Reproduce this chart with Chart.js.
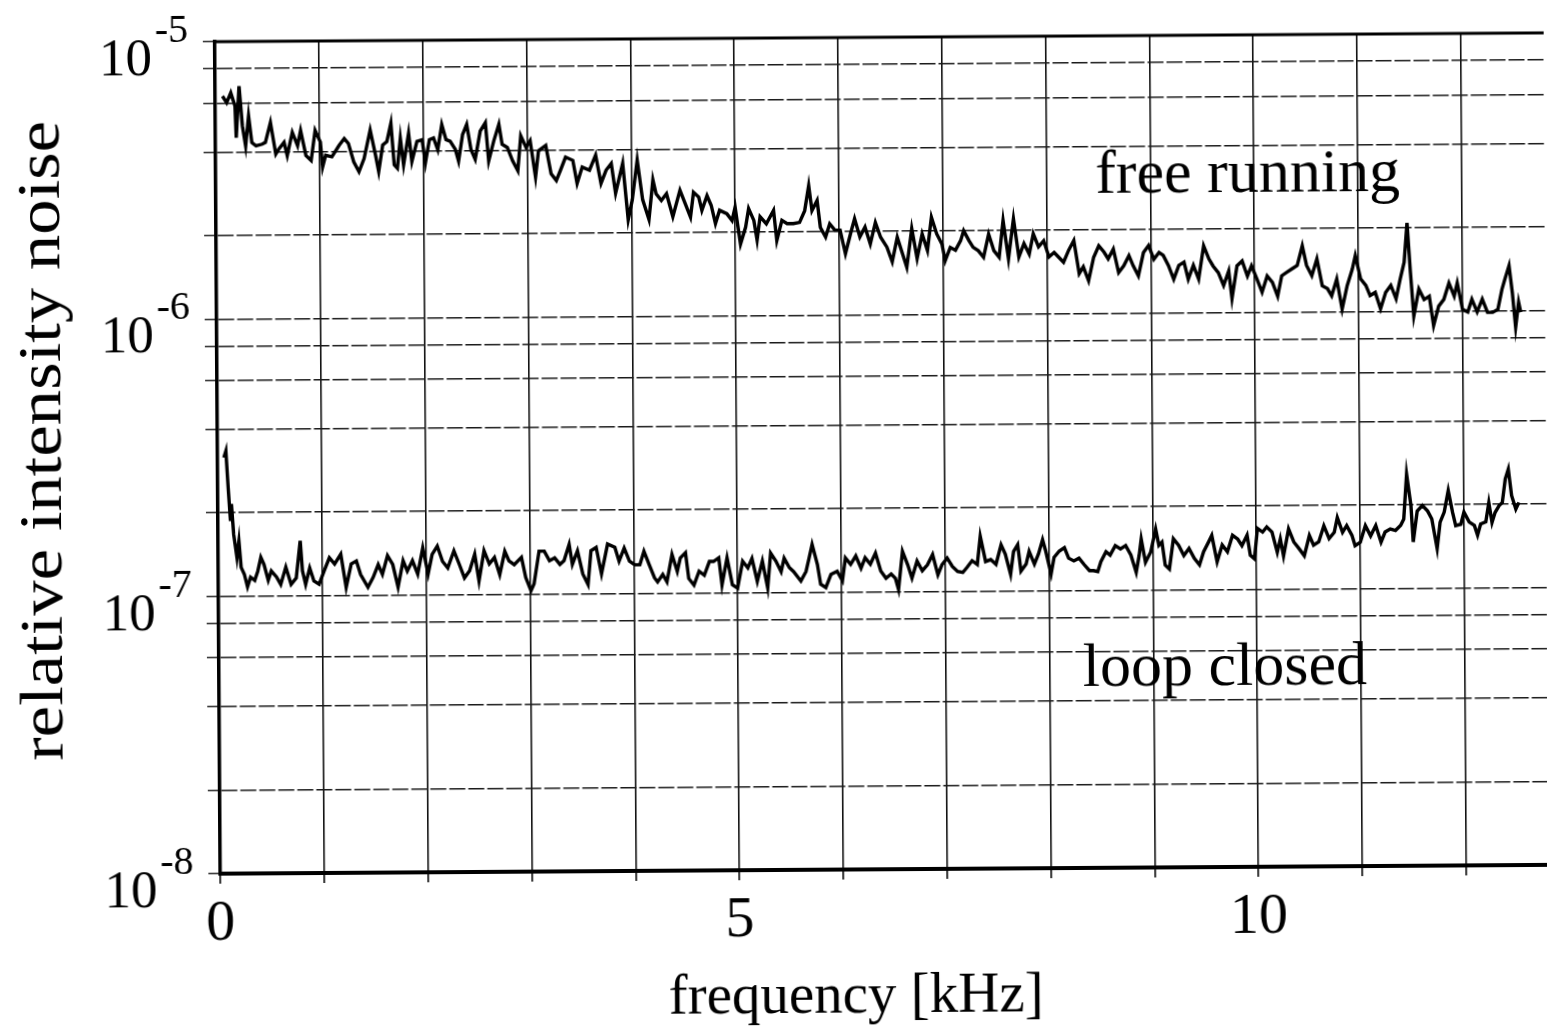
<!DOCTYPE html>
<html>
<head>
<meta charset="utf-8">
<title>relative intensity noise</title>
<script src="https://cdn.jsdelivr.net/npm/chart.js@4.4.1/dist/chart.umd.min.js"></script>
<style>
  html, body { margin: 0; padding: 0; background: #fff; overflow: hidden; }
  #rin { display: block; background: #fff; transform: rotate(-0.38deg); }
</style>
</head>
<body>
<canvas id="rin" width="1547" height="1030"></canvas>
<script>
// frequency axis [kHz]
const xTicks = [0, 1, 2, 3, 4, 5, 6, 7, 8, 9, 10, 11, 12];
const xLabels = [0, 5, 10];
// RIN axis: grid at 1, 2, 4, 6, 8 per decade
const yTicks = [1e-8, 2e-8, 4e-8, 6e-8, 8e-8, 1e-7, 2e-7, 4e-7, 6e-7, 8e-7,
  1e-6, 2e-6, 4e-6, 6e-6, 8e-6, 1e-5];
const decades = [-8, -7, -6, -5];

// free running laser
const freeFreq = [
  0.07, 0.11, 0.15, 0.19, 0.20, 0.23, 0.26, 0.29, 0.32, 0.35,
  0.39, 0.45, 0.48, 0.53, 0.58, 0.61, 0.66, 0.69, 0.74, 0.79,
  0.82, 0.87, 0.92, 0.96, 1.01, 1.03, 1.06, 1.12, 1.19, 1.24,
  1.28, 1.33, 1.38, 1.43, 1.49, 1.54, 1.57, 1.61, 1.65, 1.69,
  1.72, 1.75, 1.78, 1.81, 1.86, 1.89, 1.94, 1.99, 2.02, 2.06,
  2.10, 2.14, 2.18, 2.22, 2.26, 2.31, 2.34, 2.38, 2.42, 2.46,
  2.50, 2.55, 2.60, 2.63, 2.68, 2.73, 2.76, 2.81, 2.86, 2.91,
  2.94, 2.99, 3.03, 3.08, 3.11, 3.18, 3.23, 3.28, 3.32, 3.37,
  3.44, 3.48, 3.53, 3.60, 3.66, 3.71, 3.76, 3.81, 3.85, 3.92,
  3.97, 4.01, 4.06, 4.11, 4.17, 4.21,
  4.24, 4.29, 4.34, 4.40, 4.47, 4.52, 4.57, 4.60, 4.65, 4.68,
  4.73, 4.77, 4.81, 4.85, 4.92, 4.97, 5.00, 5.05, 5.10, 5.13,
  5.18, 5.21, 5.24, 5.30, 5.37, 5.40, 5.45, 5.50, 5.56, 5.62,
  5.67, 5.71, 5.74, 5.79, 5.82, 5.87, 5.91, 5.96, 6.01, 6.06,
  6.11, 6.15, 6.20, 6.25, 6.30, 6.35, 6.40, 6.46, 6.51, 6.56,
  6.60, 6.65, 6.70, 6.75, 6.80, 6.85, 6.89, 6.94, 6.99, 7.02,
  7.07, 7.12, 7.17, 7.20, 7.25, 7.29, 7.34, 7.39, 7.44, 7.49,
  7.54, 7.58, 7.63, 7.68, 7.73, 7.78, 7.83, 7.87, 7.92, 7.97,
  8.02, 8.07, 8.11, 8.16, 8.21, 8.26, 8.31, 8.35, 8.40, 8.45,
  8.50, 8.55, 8.59, 8.64, 8.69, 8.74, 8.79, 8.83, 8.88, 8.93,
  8.98, 9.03, 9.08, 9.12, 9.17, 9.22, 9.27, 9.32, 9.36, 9.41,
  9.46, 9.51, 9.56, 9.60, 9.65, 9.70, 9.75, 9.78, 9.83, 9.88,
  9.93, 9.97, 10.02, 10.07, 10.12, 10.17, 10.22, 10.26, 10.31, 10.36,
  10.41, 10.46, 10.50, 10.55, 10.60, 10.65, 10.70, 10.74, 10.79, 10.84,
  10.89, 10.94, 10.97, 11.02, 11.07, 11.11, 11.16, 11.21, 11.26, 11.31,
  11.36, 11.40, 11.44, 11.47, 11.50, 11.53, 11.58, 11.63, 11.68, 11.72,
  11.77, 11.82, 11.87, 11.92, 11.95, 12.00, 12.05, 12.09, 12.14, 12.19,
  12.24, 12.29, 12.34, 12.38, 12.41, 12.45, 12.48, 12.51, 12.54, 12.56
];
const freeRin = [
  6.36e-6, 6.02e-6, 6.54e-6, 5.85e-6, 4.50e-6, 6.90e-6, 4.96e-6, 4.20e-6, 5.39e-6, 4.32e-6,
  4.20e-6, 4.26e-6, 4.32e-6, 5.10e-6, 3.92e-6, 4.09e-6, 4.32e-6, 3.87e-6, 4.69e-6, 4.20e-6,
  4.76e-6, 3.87e-6, 3.71e-6, 4.76e-6, 4.32e-6, 3.51e-6, 3.87e-6, 3.82e-6, 4.20e-6, 4.44e-6,
  4.26e-6, 3.66e-6, 3.37e-6, 3.76e-6, 4.76e-6, 3.87e-6, 3.37e-6, 4.20e-6, 4.32e-6, 5.03e-6,
  3.56e-6, 3.46e-6, 4.44e-6, 3.56e-6, 4.62e-6, 3.66e-6, 4.32e-6, 4.38e-6, 3.61e-6, 4.38e-6,
  4.44e-6, 4.03e-6, 4.96e-6, 4.38e-6, 4.32e-6, 4.03e-6, 3.66e-6, 4.56e-6, 4.96e-6, 4.03e-6,
  3.71e-6, 4.69e-6, 5.03e-6, 3.66e-6, 4.32e-6, 4.96e-6, 4.20e-6, 4.09e-6, 3.66e-6, 3.37e-6,
  4.50e-6, 4.09e-6, 4.32e-6, 3.19e-6, 3.97e-6, 4.15e-6, 3.28e-6, 3.10e-6, 3.37e-6, 3.76e-6,
  3.66e-6, 3.02e-6, 3.46e-6, 3.37e-6, 3.82e-6, 3.02e-6, 3.37e-6, 3.56e-6, 2.78e-6, 3.56e-6,
  2.23e-6, 2.63e-6, 3.66e-6, 2.63e-6, 2.23e-6, 3.10e-6,
  2.76e-6, 2.61e-6, 2.76e-6, 2.28e-6, 2.84e-6, 2.54e-6, 2.27e-6, 2.79e-6, 2.68e-6, 2.40e-6,
  2.71e-6, 2.50e-6, 2.15e-6, 2.40e-6, 2.33e-6, 2.20e-6, 2.46e-6, 1.81e-6, 2.08e-6, 2.43e-6,
  2.20e-6, 1.87e-6, 2.27e-6, 2.14e-6, 2.39e-6, 1.86e-6, 2.20e-6, 2.14e-6, 2.14e-6, 2.16e-6,
  2.38e-6, 2.93e-6, 2.38e-6, 2.59e-6, 2.07e-6, 1.91e-6, 2.13e-6, 2.02e-6, 2.02e-6, 1.66e-6,
  1.96e-6, 2.22e-6, 1.91e-6, 2.07e-6, 1.80e-6, 2.15e-6, 1.90e-6, 1.75e-6, 1.55e-6, 1.90e-6,
  1.70e-6, 1.48e-6, 2.04e-6, 1.59e-6, 1.95e-6, 1.70e-6, 2.24e-6, 1.95e-6, 1.79e-6, 1.56e-6,
  1.74e-6, 1.70e-6, 1.84e-6, 2.00e-6, 1.84e-6, 1.74e-6, 1.69e-6, 1.60e-6, 1.94e-6, 1.69e-6,
  1.60e-6, 2.17e-6, 1.58e-6, 2.20e-6, 1.60e-6, 1.79e-6, 1.64e-6, 1.94e-6, 1.74e-6, 1.83e-6,
  1.60e-6, 1.66e-6, 1.60e-6, 1.53e-6, 1.69e-6, 1.83e-6, 1.39e-6, 1.47e-6, 1.31e-6, 1.59e-6,
  1.75e-6, 1.66e-6, 1.57e-6, 1.70e-6, 1.40e-6, 1.48e-6, 1.61e-6, 1.48e-6, 1.36e-6, 1.65e-6,
  1.75e-6, 1.56e-6, 1.65e-6, 1.61e-6, 1.48e-6, 1.32e-6, 1.48e-6, 1.52e-6, 1.32e-6, 1.48e-6,
  1.32e-6, 1.74e-6, 1.56e-6, 1.47e-6, 1.39e-6, 1.25e-6, 1.41e-6, 1.12e-6, 1.47e-6, 1.53e-6,
  1.35e-6, 1.47e-6, 1.32e-6, 1.18e-6, 1.35e-6, 1.28e-6, 1.14e-6, 1.35e-6, 1.39e-6, 1.43e-6,
  1.47e-6, 1.73e-6, 1.47e-6, 1.35e-6, 1.55e-6, 1.24e-6, 1.21e-6, 1.14e-6, 1.31e-6, 1.02e-6,
  1.24e-6, 1.42e-6, 1.59e-6, 1.31e-6, 1.24e-6, 1.14e-6, 1.17e-6, 1.02e-6, 1.17e-6, 1.24e-6,
  1.11e-6, 1.30e-6, 1.50e-6, 2.08e-6, 1.38e-6, 0.96e-6, 1.20e-6, 1.10e-6, 1.13e-6, 0.885e-6,
  1.04e-6, 1.10e-6, 1.26e-6, 1.13e-6, 1.26e-6, 1.01e-6, 0.99e-6, 1.10e-6, 0.99e-6, 1.10e-6,
  0.985e-6, 0.985e-6, 1.01e-6, 1.19e-6, 1.30e-6, 1.45e-6, 1.16e-6, 0.87e-6, 1.07e-6, 0.985e-6
];

// laser with the intensity loop closed
const loopFreq = [
  0.06, 0.08, 0.10, 0.12, 0.13, 0.15, 0.18, 0.20, 0.22, 0.25,
  0.28, 0.31, 0.35, 0.38, 0.41, 0.44, 0.48, 0.51, 0.56, 0.60,
  0.65, 0.70, 0.75, 0.79, 0.81, 0.84, 0.88, 0.92, 0.97, 1.02,
  1.07, 1.12, 1.18, 1.23, 1.28, 1.33, 1.37, 1.44, 1.49, 1.54,
  1.58, 1.63, 1.68, 1.73, 1.78, 1.82, 1.87, 1.92, 1.97, 2.02,
  2.06, 2.11, 2.16, 2.21, 2.27, 2.32, 2.37, 2.42, 2.47, 2.51,
  2.56, 2.61, 2.66, 2.71, 2.76, 2.80, 2.85, 2.92, 2.96, 3.01,
  3.04, 3.09, 3.14, 3.19, 3.24, 3.29, 3.33, 3.38, 3.41, 3.46,
  3.51, 3.56, 3.59, 3.64, 3.69, 3.75, 3.82, 3.86, 3.91, 3.96,
  4.01, 4.06, 4.10, 4.15, 4.20,
  4.23, 4.28, 4.32, 4.37, 4.42, 4.45, 4.50, 4.53, 4.58, 4.63,
  4.68, 4.73, 4.77, 4.82, 4.85, 4.90, 4.95, 5.00, 5.05, 5.10,
  5.14, 5.19, 5.24, 5.29, 5.32, 5.37, 5.42, 5.45, 5.50, 5.54,
  5.61, 5.66, 5.69, 5.72, 5.77, 5.80, 5.85, 5.90, 5.96, 6.01,
  6.04, 6.09, 6.14, 6.19, 6.23, 6.28, 6.33, 6.38, 6.43, 6.48,
  6.52, 6.55, 6.59, 6.64, 6.68, 6.73, 6.78, 6.83, 6.88, 6.93,
  6.97, 7.02, 7.07, 7.12, 7.17, 7.21, 7.26, 7.31, 7.34, 7.39,
  7.44, 7.49, 7.54, 7.58, 7.63, 7.66, 7.70, 7.73, 7.78, 7.81,
  7.86, 7.90, 7.94, 7.97, 8.02, 8.05, 8.10, 8.15, 8.19, 8.24,
  8.29, 8.34, 8.39, 8.43,
  8.47, 8.50, 8.55, 8.59, 8.64, 8.69, 8.74, 8.79, 8.84, 8.87,
  8.89, 8.93, 8.98, 9.03, 9.06, 9.09, 9.12, 9.16, 9.20, 9.25,
  9.30, 9.35, 9.40, 9.45, 9.49, 9.54, 9.57, 9.62, 9.67, 9.72,
  9.77, 9.82, 9.86, 9.91, 9.94, 9.98, 10.01, 10.06, 10.10, 10.15,
  10.20, 10.23, 10.26, 10.31, 10.36, 10.41, 10.46, 10.51, 10.55, 10.60,
  10.65, 10.70, 10.75, 10.78, 10.83, 10.87, 10.92, 10.95, 11.00, 11.05,
  11.10, 11.15, 11.20, 11.24, 11.29, 11.34, 11.39, 11.42, 11.45, 11.49,
  11.51, 11.55, 11.60, 11.65, 11.69, 11.74, 11.77, 11.81, 11.85, 11.89,
  11.92, 11.97, 12.00, 12.05, 12.10, 12.13, 12.16, 12.21, 12.24, 12.27,
  12.30, 12.34, 12.37, 12.40, 12.43, 12.46, 12.50, 12.53
];
const loopRin = [
  3.16e-7, 3.34e-7, 2.46e-7, 1.87e-7, 2.15e-7, 1.67e-7, 1.38e-7, 1.58e-7, 1.27e-7, 1.20e-7,
  1.08e-7, 1.17e-7, 1.14e-7, 1.23e-7, 1.38e-7, 1.30e-7, 1.14e-7, 1.23e-7, 1.17e-7, 1.10e-7,
  1.27e-7, 1.10e-7, 1.16e-7, 1.58e-7, 1.23e-7, 1.10e-7, 1.26e-7, 1.13e-7, 1.10e-7, 1.23e-7,
  1.37e-7, 1.30e-7, 1.41e-7, 1.07e-7, 1.30e-7, 1.33e-7, 1.19e-7, 1.07e-7, 1.16e-7, 1.29e-7,
  1.19e-7, 1.39e-7, 1.29e-7, 1.07e-7, 1.33e-7, 1.22e-7, 1.33e-7, 1.19e-7, 1.48e-7, 1.19e-7,
  1.40e-7, 1.50e-7, 1.32e-7, 1.25e-7, 1.44e-7, 1.29e-7, 1.15e-7, 1.22e-7, 1.40e-7, 1.12e-7,
  1.44e-7, 1.29e-7, 1.36e-7, 1.18e-7, 1.43e-7, 1.32e-7, 1.28e-7, 1.36e-7, 1.15e-7, 1.03e-7,
  1.09e-7, 1.43e-7, 1.43e-7, 1.32e-7, 1.35e-7, 1.28e-7, 1.32e-7, 1.51e-7, 1.28e-7, 1.43e-7,
  1.18e-7, 1.08e-7, 1.43e-7, 1.47e-7, 1.18e-7, 1.51e-7, 1.47e-7, 1.31e-7, 1.46e-7, 1.31e-7,
  1.27e-7, 1.27e-7, 1.42e-7, 1.27e-7, 1.14e-7,
  1.10e-7, 1.17e-7, 1.10e-7, 1.38e-7, 1.20e-7, 1.34e-7, 1.40e-7, 1.13e-7, 1.07e-7, 1.20e-7,
  1.16e-7, 1.30e-7, 1.30e-7, 1.34e-7, 1.07e-7, 1.34e-7, 1.07e-7, 1.04e-7, 1.30e-7, 1.23e-7,
  1.33e-7, 1.10e-7, 1.30e-7, 1.04e-7, 1.39e-7, 1.30e-7, 1.19e-7, 1.33e-7, 1.23e-7, 1.19e-7,
  1.10e-7, 1.19e-7, 1.33e-7, 1.49e-7, 1.26e-7, 1.07e-7, 1.04e-7, 1.16e-7, 1.19e-7, 1.10e-7,
  1.33e-7, 1.26e-7, 1.35e-7, 1.22e-7, 1.33e-7, 1.26e-7, 1.38e-7, 1.19e-7, 1.12e-7, 1.16e-7,
  1.12e-7, 1.02e-7, 1.40e-7, 1.25e-7, 1.12e-7, 1.29e-7, 1.19e-7, 1.25e-7, 1.36e-7, 1.15e-7,
  1.25e-7, 1.32e-7, 1.23e-7, 1.18e-7, 1.17e-7, 1.22e-7, 1.29e-7, 1.25e-7, 1.58e-7, 1.28e-7,
  1.30e-7, 1.25e-7, 1.47e-7, 1.36e-7, 1.15e-7, 1.39e-7, 1.47e-7, 1.18e-7, 1.25e-7, 1.39e-7,
  1.25e-7, 1.36e-7, 1.53e-7, 1.39e-7, 1.15e-7, 1.32e-7, 1.39e-7, 1.43e-7, 1.31e-7, 1.28e-7,
  1.31e-7, 1.24e-7, 1.18e-7, 1.18e-7,
  1.17e-7, 1.27e-7, 1.38e-7, 1.34e-7, 1.45e-7, 1.41e-7, 1.45e-7, 1.34e-7, 1.16e-7, 1.34e-7,
  1.53e-7, 1.26e-7, 1.37e-7, 1.66e-7, 1.45e-7, 1.49e-7, 1.23e-7, 1.19e-7, 1.53e-7, 1.45e-7,
  1.33e-7, 1.41e-7, 1.30e-7, 1.23e-7, 1.37e-7, 1.49e-7, 1.57e-7, 1.26e-7, 1.45e-7, 1.37e-7,
  1.57e-7, 1.52e-7, 1.44e-7, 1.57e-7, 1.33e-7, 1.29e-7, 1.66e-7, 1.61e-7, 1.68e-7, 1.61e-7,
  1.36e-7, 1.52e-7, 1.32e-7, 1.65e-7, 1.48e-7, 1.40e-7, 1.32e-7, 1.56e-7, 1.44e-7, 1.48e-7,
  1.69e-7, 1.52e-7, 1.60e-7, 1.81e-7, 1.60e-7, 1.69e-7, 1.56e-7, 1.43e-7, 1.47e-7, 1.69e-7,
  1.55e-7, 1.69e-7, 1.47e-7, 1.60e-7, 1.64e-7, 1.62e-7, 1.69e-7, 1.78e-7, 2.58e-7, 1.99e-7,
  1.47e-7, 1.90e-7, 1.99e-7, 1.90e-7, 1.78e-7, 1.39e-7, 1.73e-7, 1.88e-7, 2.25e-7, 1.88e-7,
  1.68e-7, 1.70e-7, 1.88e-7, 1.73e-7, 1.68e-7, 1.55e-7, 1.70e-7, 1.73e-7, 2.03e-7, 1.72e-7,
  1.87e-7, 1.98e-7, 2.03e-7, 2.47e-7, 2.68e-7, 2.15e-7, 1.92e-7, 2.03e-7
];

const serif = '"Liberation Serif", "Times New Roman", serif';

const toPoints = (xs, ys) => xs.map((x, i) => ({ x: x, y: ys[i] }));

// axis labels with superscripts, the top frame line and the curve names
const decorations = {
  id: "decorations",
  afterDraw(chart) {
    const { ctx, chartArea, scales } = chart;
    const x = scales.x;
    const y = scales.y;
    ctx.save();

    ctx.strokeStyle = "#000";
    ctx.lineWidth = 3;
    ctx.beginPath();
    ctx.moveTo(chartArea.left - 1.5, chartArea.top);
    ctx.lineTo(chartArea.right, chartArea.top);
    ctx.stroke();

    ctx.fillStyle = "#000";
    ctx.textBaseline = "alphabetic";
    decades.forEach((d) => {
      const py = y.getPixelForValue(Math.pow(10, d));
      ctx.font = "53px " + serif;
      ctx.textAlign = "right";
      ctx.fillText("10", 155, py + 33);
      ctx.font = "40px " + serif;
      ctx.textAlign = "left";
      ctx.fillText("-" + Math.abs(d), 158, py);
    });

    // axis titles
    ctx.font = "57px " + serif;
    ctx.textAlign = "center";
    ctx.fillText("frequency [kHz]", 853, 1013);

    // the vertical title runs a little wider than the font's own spacing
    ctx.save();
    ctx.translate(61, 436);
    ctx.rotate(-Math.PI / 2);
    ctx.scale(1.14, 1);
    ctx.font = "62px " + serif;
    ctx.fillText("relative intensity noise", 0, 0);
    ctx.restore();

    // curve names
    ctx.font = "62px " + serif;
    ctx.textAlign = "left";
    ctx.fillText("free running", x.getPixelForValue(8.47), y.getPixelForValue(2.72e-6));
    ctx.fillText("loop closed", x.getPixelForValue(8.32), y.getPixelForValue(4.53e-8));

    ctx.restore();
  },
};

new Chart(document.getElementById("rin"), {
  type: "line",
  data: {
    datasets: [
      {
        label: "free running",
        data: toPoints(freeFreq, freeRin),
        borderColor: "#000",
        borderWidth: 3.4,
        pointRadius: 0,
        tension: 0,
      },
      {
        label: "loop closed",
        data: toPoints(loopFreq, loopRin),
        borderColor: "#000",
        borderWidth: 3.4,
        pointRadius: 0,
        tension: 0,
      },
    ],
  },
  options: {
    responsive: false,
    animation: false,
    devicePixelRatio: 1,
    layout: { padding: { top: 38, right: 0, bottom: 0, left: 0 } },
    plugins: {
      legend: { display: false },
      tooltip: { enabled: false },
    },
    scales: {
      x: {
        type: "linear",
        min: 0,
        max: 12.8,
        afterBuildTicks: (scale) => {
          scale.ticks = xTicks.map((v) => ({ value: v }));
        },
        afterFit: (scale) => {
          scale.height = 160;
        },
        grid: { color: "#111", lineWidth: 1.6, tickLength: 10, tickColor: "#000" },
        border: { color: "#000", width: 4 },
        ticks: {
          autoSkip: false,
          maxRotation: 0,
          padding: 6,
          color: "#000",
          font: { family: serif, size: 58 },
          callback: (v) => (xLabels.includes(v) ? String(v) : ""),
        },
      },
      y: {
        type: "logarithmic",
        min: 1e-8,
        max: 1e-5,
        afterBuildTicks: (scale) => {
          scale.ticks = yTicks.map((v) => ({ value: v }));
        },
        afterFit: (scale) => {
          scale.width = 218;
        },
        grid: { color: "#1a1a1a", lineWidth: 1.4, tickLength: 12, tickColor: "#1a1a1a" },
        border: { color: "#000", width: 3.5, dash: [16, 3] },
        ticks: { display: false },
      },
    },
  },
  plugins: [decorations],
});
</script>
</body>
</html>
